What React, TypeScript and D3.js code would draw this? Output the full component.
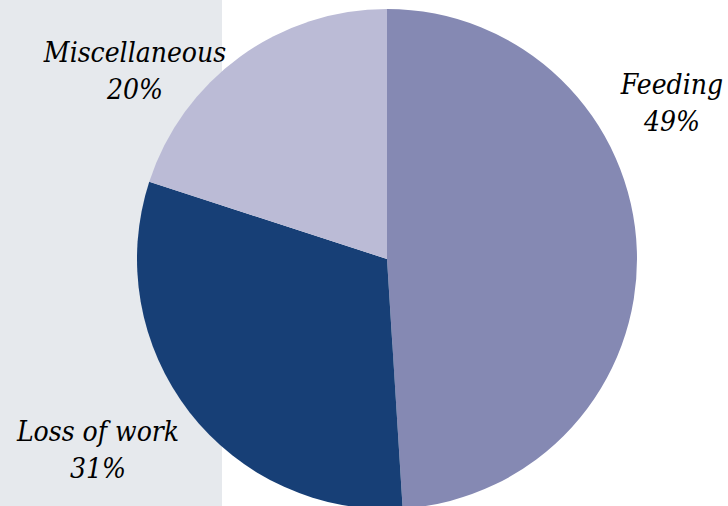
import React from "react";
import * as d3 from "d3";

const categories = ["Feeding", "Loss of work", "Miscellaneous"];
const values = [49, 31, 20];
const colors = ["#8589B3", "#173F76", "#BBBBD6"];
const labelPos = [
  { x: 672, y: 94 },
  { x: 98, y: 441 },
  { x: 135, y: 62 },
];

export default function App() {
  const W = 728, H = 506;
  const cx = 387, cy = 259, R = 250;
  const pie = d3.pie<number>().sort(null).value((d) => d);
  const arcs = pie(values);
  const arc = d3.arc<d3.PieArcDatum<number>>().innerRadius(0).outerRadius(R);
  const font = {
    fontFamily: "'DejaVu Serif'",
    fontStyle: "italic",
    fontSize: "28px",
    fontStretch: "condensed",
  };
  return (
    <div style={{ position: "absolute", left: 0, top: 0 }}>
      <svg width={W} height={H} style={{ display: "block" }}>
        <rect x={0} y={0} width={W} height={H} fill="#ffffff" />
        <rect x={0} y={0} width={222} height={H} fill="#E6E9ED" />
        <g transform={`translate(${cx},${cy})`}>
          {arcs.map((a, i) => (
            <path key={i} d={arc(a) || ""} fill={colors[i]} />
          ))}
        </g>
        {categories.map((c, i) => (
          <g key={c}>
            <text x={labelPos[i].x} y={labelPos[i].y} textAnchor="middle" style={font} fill="#000">
              {c}
            </text>
            <text x={labelPos[i].x} y={labelPos[i].y + 37} textAnchor="middle" style={font} fill="#000">
              {values[i]}%
            </text>
          </g>
        ))}
      </svg>
    </div>
  );
}
